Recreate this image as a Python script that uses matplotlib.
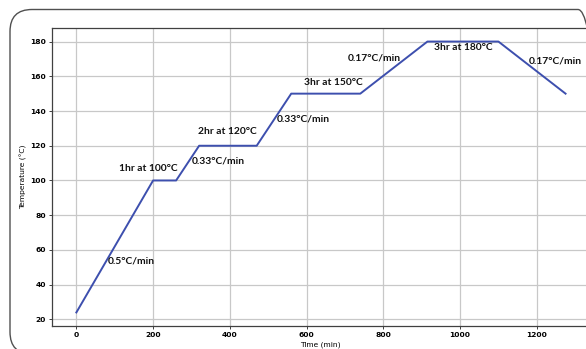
import matplotlib.pyplot as plt
from matplotlib.patches import FancyBboxPatch

# cure profile
time_min = [0, 200, 260, 320, 470, 560, 740, 915, 1100, 1275]
temp_c = [24, 100, 100, 120, 120, 150, 150, 180, 180, 150]

labels = ['0.5°C/min', '1hr at 100°C', '0.33°C/min', '2hr at 120°C', '0.33°C/min',
          '3hr at 150°C', '0.17°C/min', '3hr at 180°C', '0.17°C/min']
label_x = [81, 112, 300, 318, 521, 592, 707, 933, 1179]
label_y = [53.4, 107, 111, 128, 135.6, 156.4, 170.8, 176.5, 169]

fig = plt.figure(figsize=(5.86, 3.49), dpi=100)

# rounded frame around the whole picture (cut at right/bottom), in inches
frame = FancyBboxPatch((0.10, 3.49 - 3.54), 5.90, 3.445,
                       boxstyle='round,pad=0,rounding_size=0.22',
                       transform=fig.dpi_scale_trans, fill=False,
                       edgecolor='#505050', linewidth=1.0)
fig.patches.append(frame)

ax = fig.add_axes([52 / 586, 1 - 326 / 349, 536 / 586, 298 / 349])
ax.plot(time_min, temp_c, color='#3d4fae', linewidth=1.4)
ax.set_xlim(-63.5, 1333.5)
ax.set_ylim(16.2, 187.8)
ax.set_xticks([0, 200, 400, 600, 800, 1000, 1200])
ax.set_yticks([20, 40, 60, 80, 100, 120, 140, 160, 180])
ax.grid(True, color='#c8c8c8', linewidth=0.9)
ax.set_axisbelow(True)
for s in ax.spines.values():
    s.set_color('#404040')
    s.set_linewidth(0.9)
ax.tick_params(labelsize=5.4, length=2.5, width=0.7, pad=2, color='#404040')
for t in ax.get_xticklabels() + ax.get_yticklabels():
    t.set_fontweight('bold')
ax.set_xlabel('Time (min)', fontsize=5.4, labelpad=2)
ax.set_ylabel('Temperature (°C)', fontsize=5.4, labelpad=2)

for txt, x, y in zip(labels, label_x, label_y):
    ax.text(x, y, txt, fontsize=7.4, fontweight='bold', family='Lato',
            ha='left', va='center', color='#111111')

fig.savefig('out.png', dpi=100)
